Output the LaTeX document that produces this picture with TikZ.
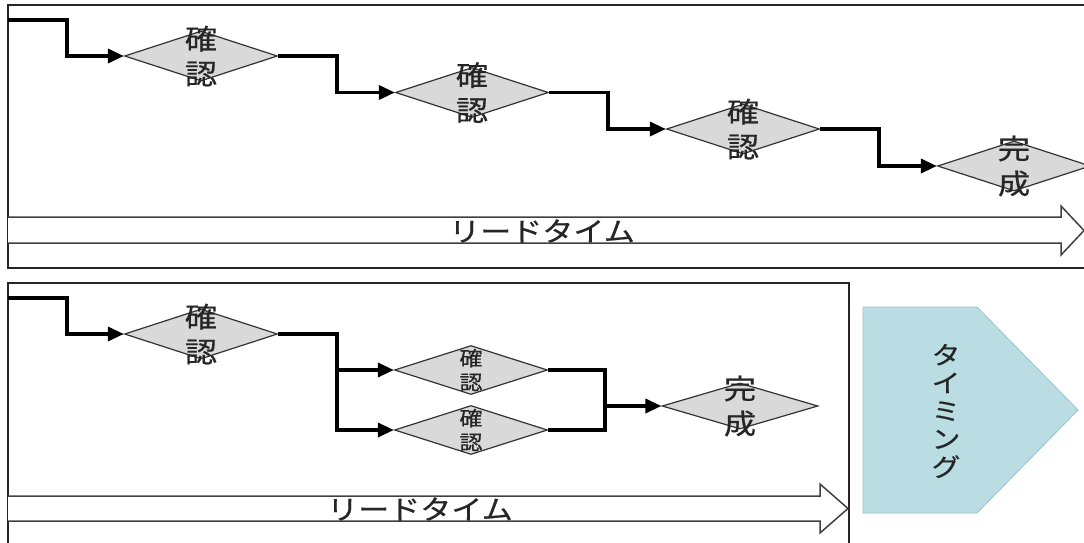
\documentclass[tikz,border=0pt]{standalone}
\usepackage{fontspec}
\newfontfamily\jp[FakeStretch=1.15,FakeBold=0.5]{Noto Sans CJK JP}
\usepackage{xcolor}
\usepackage{tikz}
\usetikzlibrary{shapes.geometric,arrows.meta}

\definecolor{chkfill}{HTML}{D9D9D9}
\definecolor{tmfill}{HTML}{B9DDE2}
\definecolor{tmline}{HTML}{9CC2C8}

\tikzset{
	frame/.style={draw=black!85,line width=1.5pt},
	check/.style={diamond,draw=black!80,fill=chkfill,line width=1.2pt,
		minimum width=153pt,minimum height=50pt,inner sep=0pt},
	word/.style={text=black!85,align=center,inner sep=0pt,
		font=\jp\fontsize{28}{35}\selectfont},
	smallword/.style={word,font=\jp\fontsize{20}{24}\selectfont},
	flow/.style={line width=3.4pt,-{Triangle[length=16pt,width=14pt]}},
	joint/.style={line width=3.4pt},
	lead/.style={draw=black!75,line width=1.5pt,fill=white},
	leadword/.style={word,font=\jp\fontsize{27}{30}\selectfont},
	timing/.style={draw=tmline,fill=tmfill,line width=0.8pt},
}

\begin{document}
\begin{tikzpicture}[x=1pt,y=-1pt]
	\useasboundingbox (0,0) rectangle (1084,542);
	
	% upper case: checks one after another
	\draw[frame] (8,5) rectangle (1090,268);
	\draw[lead] (8,217) -- (1061,217) -- (1061,206) -- (1084,230.5)
		-- (1061,255) -- (1061,243) -- (8,243);
	\node[leadword] (lt1) at (542,231) {リードタイム};
	
	\foreach \i in {1,2,3}{
		\node[check] (c\i) at ({201+271*(\i-1)},{56+36.5*(\i-1)}) {};
		\node[word] (c\i t) at (c\i) {確\\認};
	}
	\node[check] (c4) at (1014,166) {};
	\node[word] (c4t) at (c4) {完\\成};
	
	\coordinate (in1) at (8,20);
	\draw[flow] (in1) -- ++(59,0) |- (c1.west);
	\foreach \a/\b in {1/2,2/3,3/4}
		\draw[flow] (c\a.east) -- ++(59,0) |- (c\b.west);
	
	% lower case: two checks side by side
	\draw[frame] (8,283) rectangle (849,548);
	\draw[lead] (8,496) -- (820,496) -- (820,484) -- (848,508.5)
		-- (820,533) -- (820,521) -- (8,521);
	\node[leadword] (lt2) at (420,509) {リードタイム};
	
	\node[check] (d1) at (201,334) {};
	\node[word] (d1t) at (d1) {確\\認};
	\node[check,minimum height=49pt] (d2) at (471,370) {};
	\node[smallword] (d2t) at (d2) {確\\認};
	\node[check,minimum height=49pt] (d3) at (471,430) {};
	\node[smallword] (d3t) at (d3) {確\\認};
	\node[check,minimum width=156pt,minimum height=46pt] (d4) at (740,406) {};
	\node[word] (d4t) at (d4) {完\\成};
	
	\coordinate (in2) at (8,298);
	\coordinate (j) at (605,406);
	\draw[flow] (in2) -- ++(59,0) |- (d1.west);
	\draw[flow] (d1.east) -- ++(59,0) |- (d2.west);
	\draw[flow] (d1.east) -- ++(59,0) |- (d3.west);
	\draw[joint] (d2.east) -| (j);
	\draw[joint] (d3.east) -| (j);
	\draw[flow] (j) -- (d4.west);
	
	% timing
	\draw[timing] (863,307) -- (977,307) -- (1078,410) -- (977,513)
		-- (863,513) -- cycle;
	\node[word,font=\jp\fontsize{25}{28}\selectfont] (tm) at (946,411)
		{タ\\イ\\ミ\\ン\\グ};
\end{tikzpicture}
\end{document}
